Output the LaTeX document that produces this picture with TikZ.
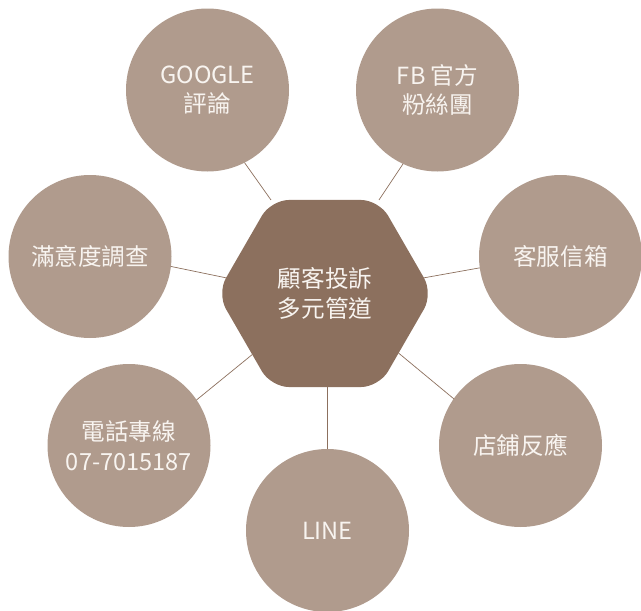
\documentclass[tikz,border=0pt]{standalone}
\usepackage{fontspec}
\setmainfont{Noto Sans CJK TC}
\usetikzlibrary{shapes.geometric}
\definecolor{hexbrown}{HTML}{8C705E}
\definecolor{dotbrown}{HTML}{B09B8D}
\definecolor{txtwhite}{HTML}{F8F4F0}

\begin{document}
\begin{tikzpicture}[x=1pt,y=-1pt,
  chan/.style={circle,fill=dotbrown,minimum size=163pt,inner sep=0pt,outer sep=0pt,
    text=txtwhite,align=center,font=\fontsize{23.6}{29.5}\selectfont},
  link/.style={hexbrown,line width=0.7pt}] %---- channels round the hub
\useasboundingbox (0,0) rectangle (641,611);
\node[regular polygon,regular polygon sides=6,minimum size=216pt,inner sep=0pt,outer sep=0pt,
  rounded corners=18pt,fill=hexbrown,text=txtwhite,align=center,
  font=\fontsize{23.6}{29.5}\selectfont] (hub) at (325,293.5) {顧客投訴\\多元管道};
\node[chan] (goog) at (207.5,90) {GOOGLE\\評論};
\node[chan] (fb) at (437.5,90) {FB 官方\\粉絲團};
\node[chan] (mail) at (560.5,256.5) {客服信箱};
\node[chan] (shop) at (520.5,445.5) {店鋪反應};
\node[chan] (line) at (327.5,530.5) {LINE};
\node[chan] (tel) at (129,445.5) {電話專線\\07-7015187};
\node[chan] (survey) at (90,256.5) {滿意度調查};
% --- connectors
\draw[link] (goog.-63) -- (hub.120);
\draw[link] (fb.245) -- (hub.60);
\draw[link] (mail.188) -- (hub.9);
\draw[link] (shop.145) -- (hub.-39);
\draw[link] (line.north) -- (line.north |- hub.south);
\draw[link] (tel.34) -- (hub.220);
\draw[link] (survey.-7) -- (hub.171);
\end{tikzpicture}
\end{document}
